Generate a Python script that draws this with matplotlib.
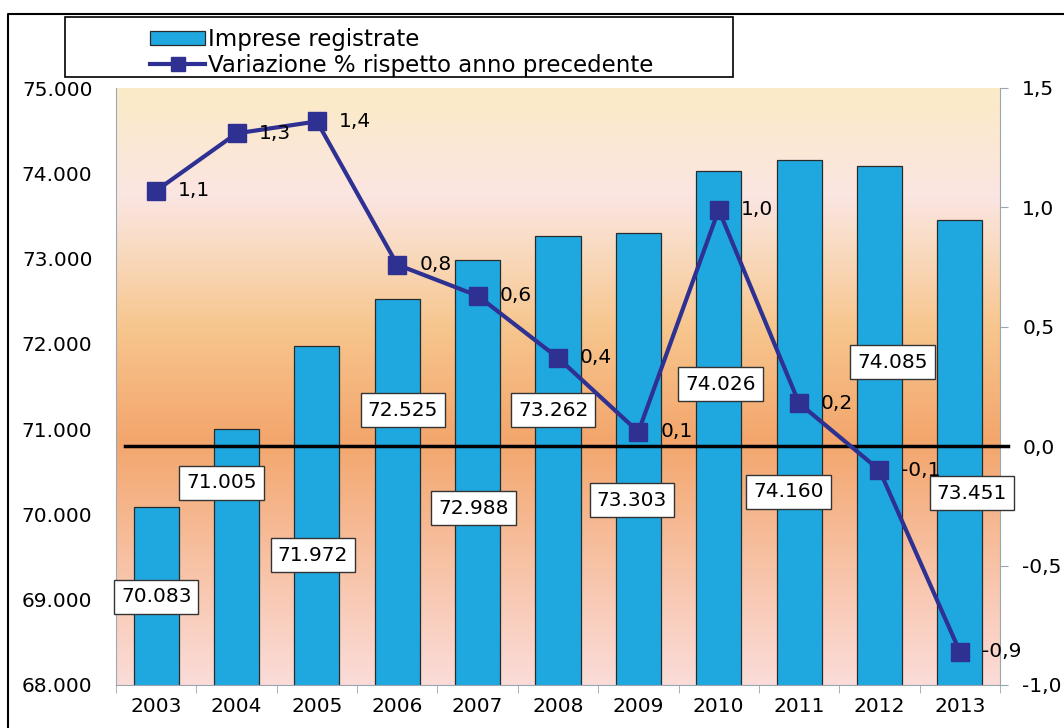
import numpy as np
import matplotlib
matplotlib.use('Agg')
import matplotlib.pyplot as plt
from matplotlib.colors import LinearSegmentedColormap
from matplotlib.patches import Rectangle, Patch
from matplotlib.lines import Line2D

plt.rcParams['font.family'] = ['DejaVu Sans']

# dati
anni = ['2003', '2004', '2005', '2006', '2007', '2008', '2009', '2010', '2011', '2012', '2013']
imprese = [70083, 71005, 71972, 72525, 72988, 73262, 73303, 74026, 74160, 74085, 73451]
variazione = [1.07, 1.31, 1.36, 0.76, 0.63, 0.37, 0.06, 0.99, 0.18, -0.10, -0.86]

# posizione delle etichette delle barre (spostamento x, quota sull'asse sinistro)
lab_dx = [0.0, -0.19, -0.05, 0.07, -0.05, -0.06, -0.08, 0.02, -0.13, 0.16, 0.15]
lab_y = [69032, 70369, 69524, 71224, 70075, 71224, 70169, 71529, 70263, 71787, 70251]

W, H = 1064, 728
fig = plt.figure(figsize=(W / 100, H / 100), dpi=100)
fig.patch.set_facecolor('white')

ax = fig.add_axes([116 / W, 1 - 685 / H, (1000 - 116) / W, (685 - 88) / H])
x = np.arange(len(anni))

# sfondo sfumato
cmap = LinearSegmentedColormap.from_list('sfondo', [
    (0.00, '#FBDCD8'),
    (0.12, '#F9CDBB'),
    (0.41, '#F3A66C'),
    (0.60, '#F7C68E'),
    (0.74, '#F9DCC4'),
    (0.82, '#FBE5E2'),
    (1.00, '#FCEBC6'),
])
grad = np.linspace(0, 1, 256).reshape(-1, 1)
ax.imshow(grad, extent=[-0.5, 10.5, 68000, 75000], aspect='auto', origin='lower',
          cmap=cmap, zorder=0)

ax.bar(x, imprese, width=0.56, color='#1FA8E0', edgecolor='#2a2a2a', linewidth=0.9, zorder=2)
ax.set_xlim(-0.5, 10.5)
ax.set_ylim(68000, 75000)
ax.set_yticks(range(68000, 75001, 1000))
ax.set_yticklabels([f'{v:,.0f}'.replace(',', '.') for v in range(68000, 75001, 1000)])
ax.set_xticks(x)
ax.set_xticklabels(anni)
ax.set_xticks(np.arange(-0.5, 11, 1), minor=True)
ax.tick_params(axis='y', length=0, pad=17, labelsize=14.5)
ax.tick_params(axis='x', which='major', length=0, pad=9, labelsize=14.5)
ax.tick_params(axis='x', which='minor', length=6, color='#9aa5b0')
for s in ['top', 'right']:
    ax.spines[s].set_visible(False)
ax.spines['left'].set_color('#9aaabb')
ax.spines['bottom'].set_color('#9aa5b0')

# asse destro
ax2 = ax.twinx()
ax2.set_ylim(-1.0, 1.5)
ticks2 = [-1.0, -0.5, 0.0, 0.5, 1.0, 1.5]
ax2.set_yticks(ticks2)
ax2.set_yticklabels([f'{v:.1f}'.replace('.', ',') for v in ticks2])
ax2.tick_params(axis='y', length=6, color='#9aa5b0', pad=10, labelsize=14.5)
for s in ['top', 'left', 'bottom']:
    ax2.spines[s].set_visible(False)
ax2.spines['right'].set_color('#9aa5b0')

ax2.axhline(0, xmin=0.01, xmax=1.009, color='black', lw=2.5, clip_on=False, zorder=3)

# etichette barre
for i, v in enumerate(imprese):
    ax2.text(i + lab_dx[i], lab_y[i], f'{v:,.0f}'.replace(',', '.'), transform=ax.transData,
             ha='center', va='center', fontsize=14.5, zorder=4,
             bbox=dict(boxstyle='square,pad=0.35', fc='white', ec='#333333', lw=1))

ax2.plot(x, variazione, color='#2E3192', lw=3, marker='s', markersize=13, zorder=5)
for i, v in enumerate(variazione):
    ax2.annotate(f'{v:.1f}'.replace('.', ','), (i, v), xytext=(22, 0), textcoords='offset pixels',
                 ha='left', va='center', fontsize=14.5, zorder=6)

# legenda
fig.add_artist(Rectangle((65 / W, 1 - 77 / H), (733 - 65) / W, 60 / H, transform=fig.transFigure,
                         fc='white', ec='black', lw=1.2))
handles = [Patch(facecolor='#1FA8E0', edgecolor='#2a2a2a', linewidth=0.9),
           Line2D([], [], color='#2E3192', lw=3, marker='s', markersize=10)]
labels = ['Imprese registrate', 'Variazione % rispetto anno precedente']
fig.legend(handles, labels, loc='upper left', bbox_to_anchor=(134 / W, 1 - 12 / H), frameon=False,
           fontsize=16.5, handlelength=2.4, handleheight=0.55, handletextpad=0.15,
           labelspacing=0.12, borderpad=0.2)

# cornice esterna
fig.add_artist(Line2D([8 / W, 8 / W, 1.0], [0, 1 - 14 / H, 1 - 14 / H], transform=fig.transFigure,
                      color='black', lw=1.5))

plt.savefig('out.png', dpi=100)
